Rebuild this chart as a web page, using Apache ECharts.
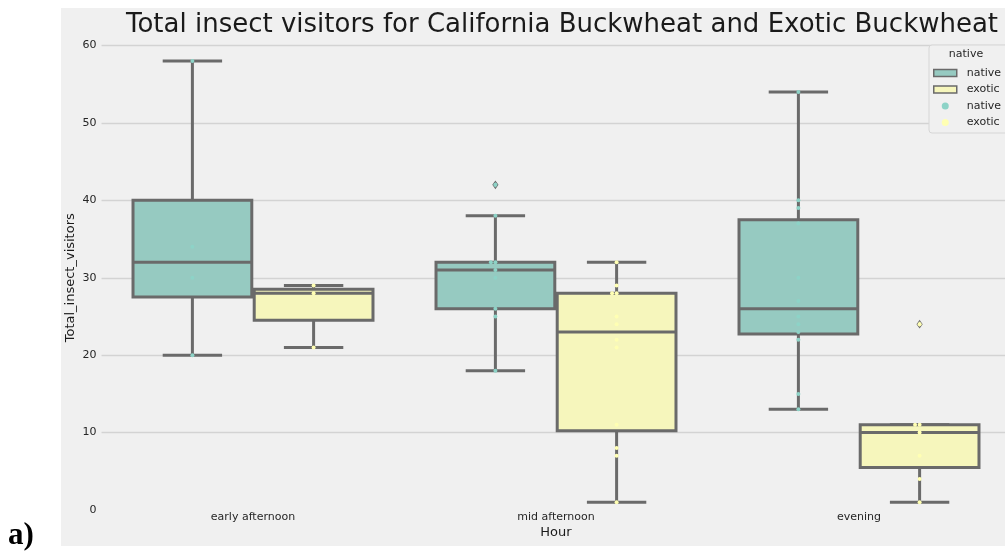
<!DOCTYPE html>
<html>
<head>
<meta charset="utf-8">
<title>Total insect visitors</title>
<script src="https://cdn.jsdelivr.net/npm/echarts@6/dist/echarts.min.js"></script>
<style>
  html, body { margin: 0; padding: 0; background: #ffffff; overflow: hidden; }
  /* the plot runs a few pixels past the right edge of the page */
  #chart { width: 1015px; height: 552px; }
</style>
</head>
<body>
<div id="chart"></div>
<script>
// Hour of day categories
const hours = ['early afternoon', 'mid afternoon', 'evening'];
const yTicks = [0, 10, 20, 30, 40, 50, 60];

// Box statistics per hour: [whisker low, Q1, median, Q3, whisker high]
const nativeBoxes = [
  [20, 27.5, 32, 40, 58],
  [18, 26, 31, 32, 38],
  [13, 22.75, 26, 37.5, 54]
];
const exoticBoxes = [
  [21, 24.5, 28, 28.5, 29],
  [1, 10.25, 23, 28, 32],
  [1, 5.5, 10, 11, 11]
];

// Outliers beyond the whiskers, per hour
const nativeOutliers = [[], [42], []];
const exoticOutliers = [[], [], [24]];

// Individual observations, per hour
const nativeCounts = [
  [58, 34, 30, 20],
  [42, 38, 32, 32, 31, 30, 26, 25, 18],
  [54, 40, 39, 37, 30, 27, 25, 24, 23, 22, 15, 13]
];
const exoticCounts = [
  [29, 28, 21],
  [32, 29, 28, 28, 25, 24, 22, 21, 11, 8, 7, 1],
  [24, 11, 11, 10, 7, 4, 1]
];

const GRAY = '#6a6a6a';
const NATIVE_FILL = '#96cac1';
const EXOTIC_FILL = '#f6f6bc';
const NATIVE_DOT = '#8dd3c7';
const EXOTIC_DOT = '#ffffb3';
const FONT = 'DejaVu Sans';

// hue dodge: each box takes 0.4 of the category band
const DODGE = 0.2;

function boxData(boxes) {
  return boxes.map((b, i) => [i].concat(b));
}

function boxRenderer(offset, fill) {
  return function (params, api) {
    const cat = api.value(0);
    const band = api.size([1, 0])[0];
    const cx = api.coord([cat, 0])[0] + offset * band;
    const w = band * 0.4 * 0.98;
    const y = (v) => api.coord([cat, v])[1];
    const yMin = y(api.value(1)), yQ1 = y(api.value(2)), yMed = y(api.value(3)),
          yQ3 = y(api.value(4)), yMax = y(api.value(5));
    const line = { stroke: GRAY, lineWidth: 3 };
    return {
      type: 'group',
      children: [
        { type: 'line', shape: { x1: cx, y1: yQ1, x2: cx, y2: yMin }, style: line },
        { type: 'line', shape: { x1: cx, y1: yQ3, x2: cx, y2: yMax }, style: line },
        { type: 'line', shape: { x1: cx - w / 4, y1: yMin, x2: cx + w / 4, y2: yMin }, style: line },
        { type: 'line', shape: { x1: cx - w / 4, y1: yMax, x2: cx + w / 4, y2: yMax }, style: line },
        { type: 'rect', shape: { x: cx - w / 2, y: yQ3, width: w, height: yQ1 - yQ3 },
          style: { fill: fill, stroke: GRAY, lineWidth: 3 } },
        { type: 'line', shape: { x1: cx - w / 2, y1: yMed, x2: cx + w / 2, y2: yMed }, style: line }
      ]
    };
  };
}

// strip points: repeated values are nudged slightly left so both stay visible
function stripData(groups, offset) {
  const out = [];
  groups.forEach((vals, i) => {
    const seen = {};
    vals.forEach((v) => {
      const k = seen[v] || 0;
      seen[v] = k + 1;
      out.push([i + offset - k * 0.015, v]);
    });
  });
  return out;
}

function outlierData(groups, offset) {
  const out = [];
  groups.forEach((vals, i) => vals.forEach((v) => out.push([i + offset, v])));
  return out;
}

const chart = echarts.init(document.getElementById('chart'), null, { renderer: 'canvas' });

const option = {
  backgroundColor: '#ffffff',
  animation: false,
  textStyle: { fontFamily: FONT },
  graphic: [
    { type: 'rect', z: -10, silent: true,
      shape: { x: 61, y: 8, width: 960, height: 538 },
      style: { fill: '#f0f0f0' } },
    { type: 'text', z: 10, silent: true,
      style: { text: 'Total insect visitors for California Buckwheat and Exotic Buckwheat',
               x: 562, y: 25.5, textAlign: 'center', textVerticalAlign: 'middle',
               font: '26px "DejaVu Sans"', fill: '#1a1a1a' } },
    { type: 'text', z: 10, silent: true,
      style: { text: 'native', x: 966, y: 54, textAlign: 'center', textVerticalAlign: 'middle',
               font: '11px "DejaVu Sans"', fill: '#262626' } },
    { type: 'text', z: 10, silent: true,
      style: { text: 'a)', x: 8, y: 551, textAlign: 'left', textVerticalAlign: 'bottom',
               font: 'bold 31px "Liberation Serif"', fill: '#000000' } }
  ],
  legend: {
    orient: 'vertical',
    left: 929,
    top: 45,
    padding: [21.5, 40, 4, 4],
    itemWidth: 23,
    itemHeight: 7,
    itemGap: 3.5,
    backgroundColor: '#f0f0f0',
    borderColor: '#d6d6d6',
    borderWidth: 1,
    borderRadius: 3,
    selectedMode: false,
    textStyle: { fontSize: 11, color: '#262626', fontFamily: FONT, lineHeight: 13, padding: [0, 0, 0, 5] },
    formatter: (name) => name.replace(' points', ''),
    data: [
      { name: 'native', icon: 'rect', itemStyle: { color: NATIVE_FILL, borderColor: GRAY, borderWidth: 1.5 } },
      { name: 'exotic', icon: 'rect', itemStyle: { color: EXOTIC_FILL, borderColor: GRAY, borderWidth: 1.5 } },
      { name: 'native points', icon: 'circle', itemStyle: { color: NATIVE_DOT, borderWidth: 0 } },
      { name: 'exotic points', icon: 'circle', itemStyle: { color: EXOTIC_DOT, borderWidth: 0 } }
    ]
  },
  grid: { left: 101.5, top: 45.5, width: 909, height: 464.5, containLabel: false },
  xAxis: [
    {
      type: 'category',
      data: hours,
      boundaryGap: true,
      axisLine: { show: false },
      axisTick: { show: false },
      splitLine: { show: false },
      axisLabel: { fontSize: 11, color: '#262626', margin: 2, fontFamily: FONT },
      name: 'Hour',
      nameLocation: 'middle',
      nameGap: 16,
      nameMoveOverlap: false,
      nameTextStyle: { fontSize: 13, color: '#1a1a1a', fontFamily: FONT }
    },
    {
      type: 'value',
      min: -0.5,
      max: 2.5,
      show: false
    }
  ],
  yAxis: {
    type: 'value',
    min: yTicks[0],
    max: yTicks[yTicks.length - 1],
    interval: 10,
    axisLine: { show: false },
    axisTick: { show: false },
    axisLabel: { fontSize: 11, color: '#262626', margin: 5, fontFamily: FONT },
    splitLine: {
      show: true,
      lineStyle: { color: ['rgba(0,0,0,0)', '#d3d3d3', '#d3d3d3', '#d3d3d3', '#d3d3d3', '#d3d3d3', '#d3d3d3'], width: 1.3 }
    },
    name: 'Total_insect_visitors',
    nameLocation: 'middle',
    nameGap: 24,
    nameMoveOverlap: false,
    nameTextStyle: { fontSize: 13, color: '#1a1a1a', fontFamily: FONT }
  },
  series: [
    {
      name: 'native',
      type: 'custom',
      xAxisIndex: 0,
      renderItem: boxRenderer(-DODGE, NATIVE_FILL),
      encode: { x: 0, y: [1, 2, 3, 4, 5] },
      itemStyle: { color: NATIVE_FILL },
      data: boxData(nativeBoxes),
      z: 2
    },
    {
      name: 'exotic',
      type: 'custom',
      xAxisIndex: 0,
      renderItem: boxRenderer(DODGE, EXOTIC_FILL),
      encode: { x: 0, y: [1, 2, 3, 4, 5] },
      itemStyle: { color: EXOTIC_FILL },
      data: boxData(exoticBoxes),
      z: 2
    },
    {
      name: 'native outliers',
      type: 'scatter',
      xAxisIndex: 1,
      symbol: 'diamond',
      symbolSize: [5, 7],
      itemStyle: { color: NATIVE_DOT, borderColor: GRAY, borderWidth: 1, opacity: 1 },
      data: outlierData(nativeOutliers, -DODGE),
      z: 3
    },
    {
      name: 'exotic outliers',
      type: 'scatter',
      xAxisIndex: 1,
      symbol: 'diamond',
      symbolSize: [5, 7],
      itemStyle: { color: EXOTIC_DOT, borderColor: GRAY, borderWidth: 1, opacity: 1 },
      data: outlierData(exoticOutliers, DODGE),
      z: 3
    },
    {
      name: 'native points',
      type: 'scatter',
      xAxisIndex: 1,
      symbol: 'circle',
      symbolSize: 4,
      itemStyle: { color: NATIVE_DOT, opacity: 1 },
      data: stripData(nativeCounts, -DODGE),
      z: 4
    },
    {
      name: 'exotic points',
      type: 'scatter',
      xAxisIndex: 1,
      symbol: 'circle',
      symbolSize: 4,
      itemStyle: { color: EXOTIC_DOT, opacity: 1 },
      data: stripData(exoticCounts, DODGE),
      z: 4
    }
  ]
};

chart.setOption(option);
</script>
</body>
</html>
